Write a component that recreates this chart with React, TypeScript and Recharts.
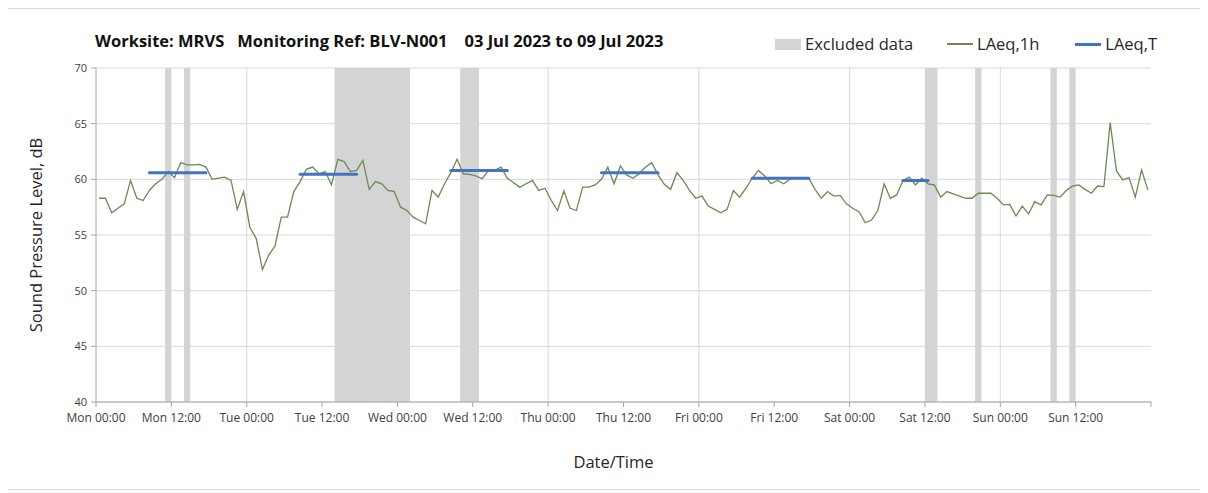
import React from 'react';
import { ComposedChart, Line, XAxis, YAxis, CartesianGrid, ReferenceArea, ReferenceLine } from 'recharts';

const dayLabels = ['Mon', 'Tue', 'Wed', 'Thu', 'Fri', 'Sat', 'Sun'];

const laeq1h = [
  58.3, 58.3, 57.0, 57.4, 57.8, 59.9, 58.3, 58.1, 59.0, 59.6, 60.0, 60.7, 60.15, 61.5, 61.3, 61.3, 61.35, 61.1, 60.0, 60.1, 60.2, 59.9, 57.3, 58.9, 55.7, 54.7, 51.9, 53.2,
  54.0, 56.6, 56.6, 58.9, 59.8, 60.9, 61.1, 60.5, 60.7, 59.5, 61.8, 61.6, 60.7, 60.8, 61.7, 59.1, 59.8, 59.6, 59.0, 58.9, 57.5, 57.2, 56.6, 56.3, 56.0, 59.0, 58.4,
  59.6, 60.6, 61.8, 60.5, 60.45, 60.3, 60.06, 60.8, 60.8, 61.1, 60.1, 59.7, 59.3, 59.6, 59.9, 59.0, 59.2, 58.1, 57.2, 58.95, 57.4, 57.2, 59.3, 59.3, 59.5, 60.0, 61.1,
  59.6, 61.2, 60.4, 60.1, 60.5, 61.1, 61.5, 60.4, 59.55, 59.1, 60.6, 59.9, 59.0, 58.3, 58.5, 57.6, 57.3, 57.0, 57.3, 59.0, 58.4, 59.2, 60.1, 60.8, 60.3, 59.6, 59.9,
  59.6, 60.0, 60.1, 60.1, 60.1, 59.1, 58.3, 58.9, 58.5, 58.55, 57.8, 57.4, 57.1, 56.1, 56.35, 57.2, 59.6, 58.3, 58.6, 59.9, 60.2, 59.5, 60.1, 59.6, 59.5, 58.4, 58.9, 58.7, 58.5,
  58.3, 58.3, 58.75, 58.75, 58.75, 58.3, 57.7, 57.75, 56.7, 57.6, 56.9, 58.0, 57.7, 58.6, 58.55, 58.4, 59.0, 59.4, 59.5, 59.1, 58.75, 59.4, 59.35, 65.1, 60.75, 59.95, 60.15, 58.4, 60.85, 59.05,
];

const excludedStarts = [11, 14, 38, 58, 132, 140, 152, 155];
const excludedEnds = [12, 15, 50, 61, 134, 141, 153, 156];

const laeqTStarts = [8.5, 32.5, 56.5, 80.5, 104.5, 128.5];
const laeqTEnds = [17.5, 41.5, 65.5, 89.5, 113.5, 132.5];
const laeqTValues = [60.6, 60.45, 60.8, 60.6, 60.1, 59.9];

const xTicks = [0, 12, 24, 36, 48, 60, 72, 84, 96, 108, 120, 132, 144, 156, 168];
const dayGrid = [24, 48, 72, 96, 120, 144];
const yTicks = [40, 45, 50, 55, 60, 65, 70];

const hourlyData = laeq1h.map((v, i) => ({ x: i + 0.5, v }));
const segments = laeqTValues.map((v, i) => [
  { x: laeqTStarts[i], t: v },
  { x: laeqTEnds[i], t: v },
]);

const FONT = '"Open Sans", "Noto Sans", sans-serif';
const GREEN = '#6B8A50';
const BLUE = '#4472C4';
const BAND = '#D4D4D4';
const GRID = '#D9D9D9';

const fmtX = (t: number) => {
  if (t >= 168) return '';
  const d = dayLabels[Math.floor(t / 24)];
  return `${d} ${t % 24 === 0 ? '00' : '12'}:00`;
};

export default function App() {
  return (
    <div
      style={{
        position: 'relative',
        width: 1194,
        height: 480,
        marginLeft: -3,
        border: '1px solid #D9D9D9',
        fontFamily: FONT,
      }}
    >
      <div
        style={{
          position: 'absolute',
          left: 89,
          top: 22,
          fontSize: 16.5,
          fontWeight: 700,
          color: '#111',
          whiteSpace: 'pre',
          lineHeight: '20px',
        }}
      >
        <span>Worksite: MRVS</span>
        <span style={{ marginLeft: 13 }}>Monitoring Ref: BLV-N001</span>
        <span style={{ marginLeft: 17 }}>03 Jul 2023 to 09 Jul 2023</span>
      </div>
      <div
        style={{
          position: 'absolute',
          left: 769,
          top: 25,
          fontSize: 16.5,
          color: '#262626',
          display: 'flex',
          alignItems: 'center',
          whiteSpace: 'pre',
          lineHeight: '20px',
        }}
      >
        <span style={{ display: 'inline-block', width: 26, height: 11, background: BAND, marginRight: 4 }} />
        <span>Excluded data</span>
        <span style={{ display: 'inline-block', width: 26, height: 1.5, background: GREEN, marginLeft: 34, marginRight: 4 }} />
        <span>LAeq,1h</span>
        <span style={{ display: 'inline-block', width: 26, height: 3, background: BLUE, marginLeft: 36, marginRight: 4 }} />
        <span>LAeq,T</span>
      </div>
      <div style={{ position: 'absolute', left: 0, top: 0 }}>
        <ComposedChart
          width={1194}
          height={478}
          data={hourlyData}
          margin={{ top: 59, right: 49, bottom: 15, left: 0 }}
        >
          <CartesianGrid vertical={false} stroke={GRID} strokeWidth={1} />
          {dayGrid.map((d) => (
            <ReferenceLine key={`g${d}`} x={d} stroke={GRID} strokeWidth={1} />
          ))}
          {excludedStarts.map((s, i) => (
            <ReferenceArea
              key={`b${i}`}
              x1={s}
              x2={excludedEnds[i]}
              y1={40}
              y2={70}
              fill={BAND}
              fillOpacity={1}
              stroke="none"
            />
          ))}
          <XAxis
            dataKey="x"
            type="number"
            domain={[0, 168]}
            ticks={xTicks}
            tickFormatter={fmtX}
            interval={0}
            height={70}
            stroke="#A6A6A6"
            tickSize={5}
            tickMargin={6}
            tick={{ fontSize: 12, fill: '#404040', fontFamily: FONT }}
            allowDataOverflow
            label={{
              value: 'Date/Time',
              position: 'insideBottom',
              offset: 4,
              dx: -10,
              style: { fontSize: 16.5, fill: '#262626', fontFamily: FONT },
            }}
          />
          <YAxis
            type="number"
            domain={[40, 70]}
            ticks={yTicks}
            interval={0}
            width={90}
            stroke="#A6A6A6"
            tickSize={5}
            tickMargin={4}
            tick={{ fontSize: 11, fill: '#404040', fontFamily: FONT }}
            label={{
              value: 'Sound Pressure Level, dB',
              angle: -90,
              position: 'insideLeft',
              offset: 30,
              style: { fontSize: 16.5, fill: '#262626', fontFamily: FONT, textAnchor: 'middle' },
            }}
          />
          <Line
            dataKey="v"
            type="linear"
            stroke={GREEN}
            strokeWidth={1.3}
            dot={false}
            activeDot={false}
            isAnimationActive={false}
          />
          {segments.map((seg, i) => (
            <Line
              key={`t${i}`}
              data={seg}
              dataKey="t"
              type="linear"
              stroke={BLUE}
              strokeWidth={3}
              strokeLinecap="round"
              dot={false}
              activeDot={false}
              isAnimationActive={false}
            />
          ))}
        </ComposedChart>
      </div>
    </div>
  );
}
